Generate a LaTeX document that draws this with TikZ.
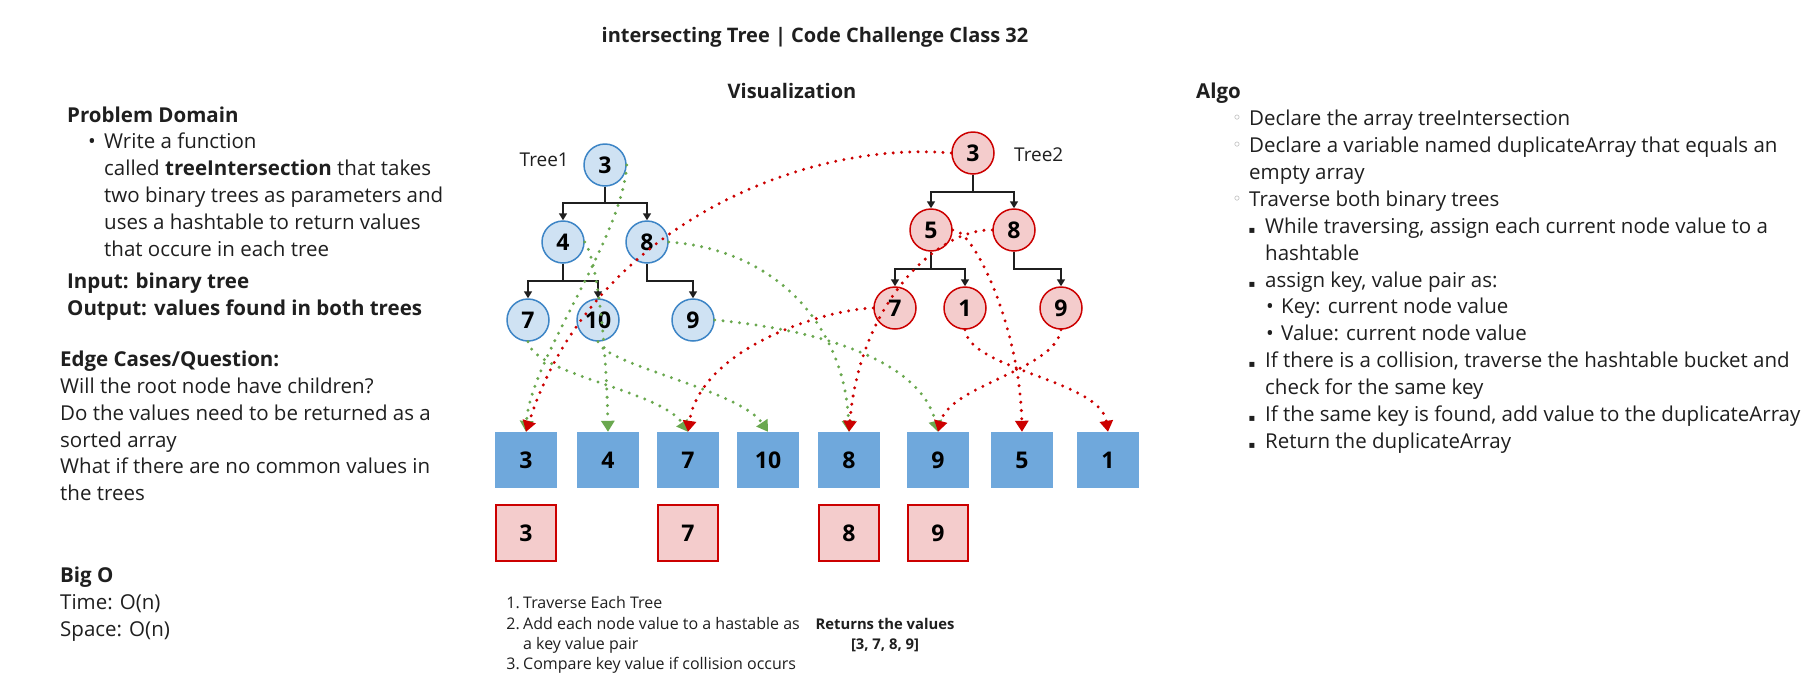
\documentclass[tikz,border=0pt]{standalone}
\usepackage{fontspec}
\setmainfont{Open Sans}
\newfontfamily\symfont{DejaVu Sans}
\usetikzlibrary{arrows.meta}

\definecolor{inkdark}{HTML}{1F1F1F}
\definecolor{oneFill}{HTML}{CFE2F3}
\definecolor{oneLine}{HTML}{3D85C6}
\definecolor{twoFill}{HTML}{F4CCCC}
\definecolor{twoLine}{HTML}{CC0000}
\definecolor{slotFill}{HTML}{6FA8DC}
\definecolor{dotRed}{HTML}{CC0000}
\definecolor{dotGreen}{HTML}{6AA84F}
\definecolor{ringGrey}{HTML}{9A9A9A}

\begin{document}
\begin{tikzpicture}[
  x=1pt, y=-1pt,
  font=\fontsize{20.5}{26.8}\selectfont,
  %% Text styles
  bodytext/.style={anchor=north west, align=left, inner sep=0pt, text=inkdark},
  headtext/.style={bodytext, font=\fontsize{20.5}{26.8}\selectfont\bfseries},
  listtext/.style={anchor=base west, inner sep=0pt, text=inkdark,
    font=\fontsize{16}{20}\selectfont},
  dotmark/.style={anchor=base, inner sep=0pt, text=inkdark},
  %% Tree nodes
  bluenode/.style={
    circle, draw=oneLine, fill=oneFill, line width=1.5pt,
    minimum size=42pt, inner sep=0pt,
    font=\fontsize{23}{23}\selectfont\bfseries
  },
  rednode/.style={bluenode, draw=twoLine, fill=twoFill},
  treeedge/.style={draw=inkdark, line width=1.6pt,
    -{Triangle[width=8pt, length=7pt]}},
  %% Hashtable slots
  slotbox/.style={
    fill=slotFill, minimum width=62pt, minimum height=56pt, inner sep=0pt,
    font=\fontsize{23}{23}\selectfont\bfseries
  },
  dupbox/.style={slotbox, fill=twoFill, draw=twoLine, line width=1.5pt,
    minimum width=60pt},
  %% Dotted traversal links
  dotlink/.style={line width=3.3pt, line cap=round,
    dash pattern=on 0pt off 8.3pt,
    -{Triangle[width=13pt, length=11pt]}},
  dotgreen/.style={dotlink, draw=dotGreen},
  dotred/.style={dotlink, draw=dotRed},
]

\path[use as bounding box, fill=white] (0,0) rectangle (1820,689);

%% ── TITLES ────────────────────────────────────────────────────────────────
\node[anchor=base, inner sep=0pt, text=inkdark,
      font=\fontsize{20}{20}\selectfont\bfseries] (title) at (815,42)
  {intersecting Tree | Code Challenge Class 32};
\node[anchor=base, inner sep=0pt, text=inkdark,
      font=\fontsize{20}{20}\selectfont\bfseries] (vis) at (792,98)
  {Visualization};

%% ── LEFT COLUMN ───────────────────────────────────────────────────────────
\node[headtext] (pd) at (67,107) {Problem Domain};
\node[dotmark] (pdb) at (92,148) {•};
\node[bodytext] (pdtext) at (104,133)
  {Write a function\\
   called \textbf{treeIntersection} that takes\\
   two binary trees as parameters and\\
   uses a hashtable to return values\\
   that occure in each tree};
\node[headtext] (io) at (67,273)
  {Input: binary tree\\Output: values found in both trees};
\node[bodytext] (edge) at (60,351)
  {\textbf{Edge Cases/Question:}\\
   Will the root node have children?\\
   Do the values need to be returned as a\\
   sorted array\\
   What if there are no common values in\\
   the trees};
\node[bodytext] (bigo) at (60,567)
  {\textbf{Big O}\\Time: O(n)\\Space: O(n)};

%% ── RIGHT COLUMN ──────────────────────────────────────────────────────────
\node[headtext] (algo) at (1196,83) {Algo};
\foreach \y in {123, 150, 204}
  \node[dotmark, text=ringGrey, font=\symfont\fontsize{16}{16}\selectfont]
    at (1237,\y) {◦};
\node[bodytext] (decl) at (1249,110)
  {Declare the array treeIntersection\\
   Declare a variable named duplicateArray that equals an\\
   empty array\\
   Traverse both binary trees};
\foreach \y in {233, 287, 367, 421, 448}
  \node[dotmark, font=\symfont\fontsize{10}{10}\selectfont] at (1252,\y) {▪};
\node[bodytext] (trav) at (1265,218)
  {While traversing, assign each current node value to a\\
   hashtable\\
   assign key, value pair as:};
\foreach \y in {313, 340}
  \node[dotmark] at (1270,\y) {•};
\node[bodytext] (kv) at (1281,298)
  {Key: current node value\\Value: current node value};
\node[bodytext] (coll) at (1265,352)
  {If there is a collision, traverse the hashtable bucket and\\
   check for the same key\\
   If the same key is found, add value to the duplicateArray\\
   Return the duplicateArray};

%% ── TREE 1 ────────────────────────────────────────────────────────────────
\node[bluenode] (t1r) at (605,165) {3};
\node[bluenode] (t1a) at (563,242) {4};
\node[bluenode] (t1b) at (647,242) {8};
\node[bluenode] (t1c) at (528,320) {7};
\node[bluenode] (t1d) at (598,320) {10};
\node[bluenode] (t1e) at (693,320) {9};
\node[anchor=base east, inner sep=0pt, text=inkdark,
      font=\fontsize{19}{19}\selectfont] (lab1) at (569,166) {Tree1};

\foreach \ch in {t1a, t1b}
  \draw[treeedge] (t1r.south) -- ++(0,16) -| (\ch.north);
\foreach \ch in {t1c, t1d}
  \draw[treeedge] (t1a.south) -- ++(0,17) -| (\ch.north);
\draw[treeedge] (t1b.south) -- ++(0,17) -| (t1e.north);

%% ── TREE 2 ────────────────────────────────────────────────────────────────
\node[rednode] (t2r) at (973,153) {3};
\node[rednode] (t2a) at (931,230) {5};
\node[rednode] (t2b) at (1014,230) {8};
\node[rednode] (t2c) at (895,308) {7};
\node[rednode] (t2d) at (965,308) {1};
\node[rednode] (t2e) at (1061,308) {9};
\node[anchor=base west, inner sep=0pt, text=inkdark,
      font=\fontsize{19}{19}\selectfont] (lab2) at (1014,161) {Tree2};

\foreach \ch in {t2a, t2b}
  \draw[treeedge] (t2r.south) -- ++(0,17) -| (\ch.north);
\foreach \ch in {t2c, t2d}
  \draw[treeedge] (t2a.south) -- ++(0,17) -| (\ch.north);
\draw[treeedge] (t2b.south) -- ++(0,17) -| (t2e.north);

%% ── HASHTABLE ─────────────────────────────────────────────────────────────
\foreach \v/\x in {3/526, 4/608, 7/688, 10/768, 8/849, 9/938, 5/1022, 1/1108}
  \node[slotbox] (h\v) at (\x,460) {\v};
\foreach \v/\x in {3/526, 7/688, 8/849, 9/938}
  \node[dupbox] (d\v) at (\x,533) {\v};

%% ── TRAVERSAL LINKS ───────────────────────────────────────────────────────
\draw[dotgreen] (t1r.east) .. controls (622,240) and (530,360) .. (h3.north);
\draw[dotgreen] (t1a.east) .. controls (600,265) and (607,370) .. (h4.north);
\draw[dotgreen] (t1c.south) .. controls (535,375) and (660,390) .. (h7.north);
\draw[dotgreen] (t1d.south) .. controls (605,365) and (740,390) .. (h10.north);
\draw[dotgreen] (t1b.east) .. controls (780,250) and (845,330) .. (h8.north);
\draw[dotgreen] (t1e.east) .. controls (820,330) and (920,360) .. (h9.north);

\draw[dotred] (t2r.west) .. controls (800,140) and (590,230) .. (h3.north);
\draw[dotred] (t2c.west) .. controls (820,310) and (700,350) .. (h7.north);
\draw[dotred] (t2b.west) .. controls (940,228) and (860,300) .. (h8.north);
\draw[dotred] (t2a.east) .. controls (975,230) and (1020,330) .. (h5.north);
\draw[dotred] (t2d.south) .. controls (970,370) and (1100,380) .. (h1.north);
\draw[dotred] (t2e.south) .. controls (1055,370) and (950,385) .. (h9.north);

%% ── STEPS AND RESULT ──────────────────────────────────────────────────────
\foreach \n/\y in {1/608, 2/629, 3/669}
  \node[listtext, anchor=base east] at (520,\y) {\n.};
\node[listtext] (s1) at (523,608) {Traverse Each Tree};
\node[listtext] (s2) at (523,629) {Add each node value to a hastable as};
\node[listtext] (s2b) at (523,649) {a key value pair};
\node[listtext] (s3) at (523,669) {Compare key value if collision occurs};

\node[listtext, anchor=base, font=\fontsize{14.8}{20}\selectfont\bfseries]
  (ret) at (885,629) {Returns the values};
\node[listtext, anchor=base, font=\fontsize{14.8}{20}\selectfont\bfseries]
  (retv) at (885,649) {[3, 7, 8, 9]};

\end{tikzpicture}
\end{document}
